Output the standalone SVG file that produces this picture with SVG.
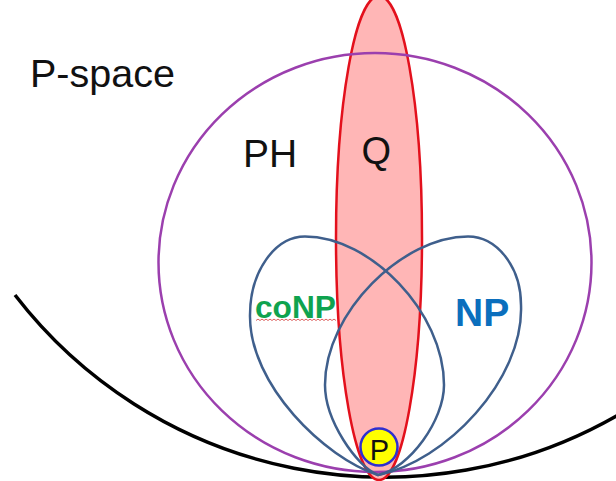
<svg xmlns="http://www.w3.org/2000/svg" width="616" height="481" viewBox="0 0 616 481">
<style>
.lbl{font-family:"Liberation Sans",Arial,sans-serif;fill:#111}
.bold{font-family:"Liberation Sans",Arial,sans-serif;font-weight:bold}
.set{fill:none;stroke-width:2.5}
.blue{stroke:#3f5f8c}
</style>
<rect width="616" height="481" fill="#ffffff"/>
<g id="pspace">
<path d="M15,295 A467,467 0 0 0 618,415" fill="none" stroke="#000" stroke-width="3.5"/>
<text class="lbl" x="30" y="87" font-size="39.5">P-space</text>
</g>
<g id="q">
<ellipse cx="379" cy="238" rx="43" ry="242" fill="#ffb6b6" stroke="#e3101c" stroke-width="2.5"/>
<text class="lbl" x="361.5" y="163.5" font-size="38">Q</text>
</g>
<g id="ph">
<ellipse class="set" cx="375" cy="262.5" rx="216.5" ry="209.5" stroke="#9b3fae"/>
<text class="lbl" x="243" y="166.7" font-size="39">PH</text>
</g>
<g id="conp">
<path class="set blue" d="M378,475 C325,458 249,385 250,315 C250,272 274.6,236.5 305,236.5 C370,236.5 444,312 444,385 C444,420 410,468 378,475 Z"/>
<text class="bold" x="255" y="318" font-size="32" textLength="81" lengthAdjust="spacingAndGlyphs" fill="#0fa34f">coNP</text>
<path d="M256,320.5 l2,-1.4 l2,1.4 l2,-1.4 l2,1.4 l2,-1.4 l2,1.4 l2,-1.4 l2,1.4 l2,-1.4 l2,1.4 l2,-1.4 l2,1.4 l2,-1.4 l2,1.4 l2,-1.4 l2,1.4 l2,-1.4 l2,1.4 l2,-1.4 l2,1.4 l2,-1.4 l2,1.4 l2,-1.4 l2,1.4 l2,-1.4 l2,1.4 l2,-1.4 l2,1.4 l2,-1.4 l2,1.4 l2,-1.4 l2,1.4 l2,-1.4 l2,1.4 l2,-1.4 l2,1.4 l2,-1.4 l2,1.4 l2,-1.4 l2,1.4" fill="none" stroke="#d9504f" stroke-width="0.9"/>
</g>
<g id="np">
<path class="set blue" d="M378,475 C445,462 524,380 521,305 C521,267 497,236.5 468,236.5 C403,236.5 325,312 325,385 C325,420 356,466 378,475 Z"/>
<text class="bold" x="455" y="326" font-size="39" fill="#0b6fbd">NP</text>
</g>
<g id="p">
<circle cx="379" cy="447" r="18.5" fill="#ffff00" stroke="#2f2fd0" stroke-width="2.5"/>
<text class="lbl" x="379.5" y="459.5" font-size="29" text-anchor="middle">P</text>
</g>
<g id="connectors"/>
</svg>
